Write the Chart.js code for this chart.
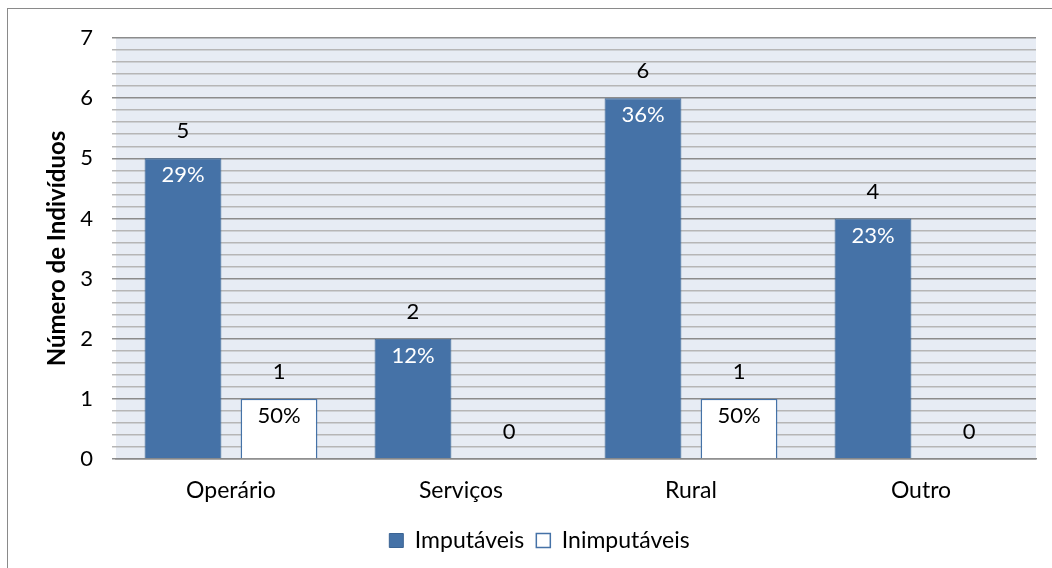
<!DOCTYPE html>
<html>
<head>
<meta charset="utf-8">
<script src="https://cdn.jsdelivr.net/npm/chart.js@4/dist/chart.umd.min.js"></script>
<style>
  html, body { margin: 0; padding: 0; background: #fff; }
  #wrap { position: relative; width: 1052px; height: 568px; overflow: hidden; }
  #frame { position: absolute; left: 7px; top: 8px; width: 1100px; height: 600px;
           border-left: 1.5px solid #8a8a8a; border-top: 1.5px solid #8a8a8a; }
  canvas { position: absolute; left: 0; top: 0; }
</style>
</head>
<body>
<div id="wrap">
  <div id="frame"></div>
  <canvas id="grafico" width="1052" height="568"></canvas>
</div>
<script>
const categorias = ['Operário', 'Serviços', 'Rural', 'Outro'];
const imputaveis = [5, 2, 6, 4];
const inimputaveis = [1, 0, 1, 0];
const pctImputaveis = ['29%', '12%', '36%', '23%'];
const pctInimputaveis = ['50%', null, '50%', null];

const FONTE = 'Lato, "Open Sans", sans-serif';
const charts = {};

// fundo azul-acinzentado da área de plotagem
const fundoPlot = {
  id: 'fundoPlot',
  beforeDraw(chart) {
    const { ctx, chartArea: a } = chart;
    ctx.save();
    ctx.fillStyle = '#e7ecf4';
    ctx.fillRect(a.left, a.top, a.right - a.left, a.bottom - a.top);
    ctx.restore();
  }
};

// valores acima das barras e percentagens dentro delas
const rotulos = {
  id: 'rotulos',
  afterDatasetsDraw(chart) {
    const { ctx } = chart;
    const pcts = [pctImputaveis, pctInimputaveis];
    const cores = ['#ffffff', '#000000'];
    ctx.save();
    ctx.textAlign = 'center';
    ctx.textBaseline = 'middle';
    chart.data.datasets.forEach((ds, di) => {
      const meta = chart.getDatasetMeta(di);
      meta.data.forEach((bar, i) => {
        ctx.font = '22px ' + FONTE;
        ctx.fillStyle = '#000';
        ctx.fillText(String(ds.data[i]), bar.x, bar.y - 27);
        const p = pcts[di][i];
        if (p) {
          ctx.font = '22px ' + FONTE;
          ctx.fillStyle = cores[di];
          ctx.fillText(p, bar.x, bar.y + 17);
        }
      });
    });
    ctx.restore();
  }
};

charts.grafico = new Chart(document.getElementById('grafico'), {
  type: 'bar',
  data: {
    labels: categorias,
    datasets: [
      {
        label: 'Imputáveis',
        data: imputaveis,
        backgroundColor: '#4572a7',
        borderColor: '#3b6494',
        borderWidth: 1
      },
      {
        label: 'Inimputáveis',
        data: inimputaveis,
        backgroundColor: '#ffffff',
        borderColor: '#4572a7',
        borderWidth: 1.5
      }
    ]
  },
  options: {
    responsive: false,
    animation: false,
    layout: { padding: { left: 43, top: 38, right: 16, bottom: 6 } },
    datasets: { bar: { categoryPercentage: 0.835, barPercentage: 0.8 } },
    plugins: {
      legend: {
        position: 'bottom',
        labels: {
          color: '#000',
          font: { family: FONTE, size: 23 },
          boxWidth: 14,
          boxHeight: 14,
          padding: 12
        }
      },
      tooltip: { enabled: false }
    },
    scales: {
      x: {
        grid: { display: false, drawTicks: false },
        border: { color: '#8a8a8a', width: 1.5 },
        ticks: { color: '#000', font: { family: FONTE, size: 23 }, padding: 18 },
        afterFit(scale) { scale.height = 58; }
      },
      y: {
        min: 0,
        max: 7,
        ticks: {
          stepSize: 0.2,
          autoSkip: false,
          color: '#000',
          font: { family: FONTE, size: 22 },
          padding: 19,
          callback: v => Math.abs(v - Math.round(v)) < 1e-6 ? String(Math.round(v)) : ''
        },
        grid: {
          color: c => Math.abs(c.tick.value - Math.round(c.tick.value)) < 1e-6 ? '#8c8c8c' : '#b6b6b6',
          lineWidth: 1.5,
          tickLength: 4
        },
        border: { display: false },
        title: {
          display: true,
          text: 'Número de Indivíduos',
          color: '#000',
          font: { family: FONTE, size: 24, weight: 'bold' },
          padding: { top: 0, bottom: 0 }
        },
        afterFit(scale) { scale.width = 73; }
      }
    }
  },
  plugins: [fundoPlot, rotulos]
});
</script>
</body>
</html>
